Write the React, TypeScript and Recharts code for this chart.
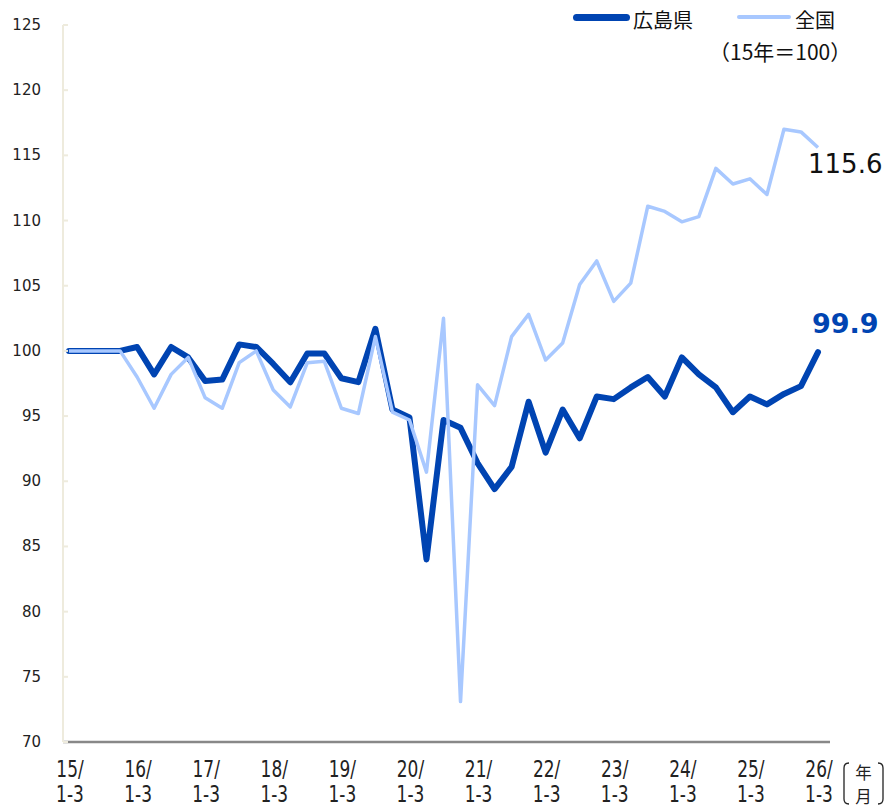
import React from 'react';
import { LineChart, Line, XAxis, YAxis, LabelList } from 'recharts';

const categories: string[] = [];
const years = ['15', '16', '17', '18', '19', '20', '21', '22', '23', '24', '25', '26'];
const quarters = ['1-3', '4-6', '7-9', '10-12'];
years.forEach((y, yi) => {
  quarters.forEach((q, qi) => {
    if (yi === years.length - 1 && qi > 0) return;
    categories.push(`${y}/${q}`);
  });
});

const hiroshima = [
  100, 100, 100, 100,
  100.3, 98.2, 100.3, 99.5,
  97.7, 97.8, 100.5, 100.3,
  99.0, 97.6, 99.8, 99.8,
  97.9, 97.6, 101.7, 95.5,
  94.9, 84.0, 94.7, 94.1,
  91.4, 89.4, 91.1, 96.1,
  92.2, 95.5, 93.3, 96.5,
  96.3, 97.2, 98.0, 96.5,
  99.5, 98.2, 97.2, 95.3,
  96.5, 95.9, 96.7, 97.3,
  99.9,
];

const zenkoku = [
  100, 100, 100, 100,
  98.0, 95.6, 98.2, 99.5,
  96.4, 95.6, 99.1, 100.0,
  97.0, 95.7, 99.1, 99.2,
  95.6, 95.2, 101.1, 95.3,
  94.7, 90.7, 102.5, 73.1,
  97.4, 95.8, 101.1, 102.8,
  99.3, 100.6, 105.1, 106.9,
  103.8, 105.2, 111.1, 110.7,
  109.9, 110.3, 114.0, 112.8,
  113.2, 112.0, 117.0, 116.8,
  115.6,
];

const yTicks = [70, 75, 80, 85, 90, 95, 100, 105, 110, 115, 120, 125];

const seriesNames = ['広島県', '全国'];
const unitNote = '（15年＝100）';

const DARK = '#0044B2';
const LIGHT = '#A8C8FF';

const data = categories.map((c, i) => ({ cat: c, hiroshima: hiroshima[i], zenkoku: zenkoku[i] }));
const LAST = data.length - 1;

const SY = 1.15;

const XTick = (props: any) => {
  const { x, y, payload } = props;
  const [yr, q] = String(payload.value).split('/');
  const common = {
    transform: `scale(0.85,${SY})`,
    textAnchor: 'middle' as const,
    fill: '#222',
    fontSize: 20,
    fontFamily: "'DejaVu Sans', Verdana, sans-serif",
  };
  return (
    <g transform={`translate(${x + 1},${y})`}>
      <text {...common} x={0} y={35 / SY}>{`${yr}/`}</text>
      <text {...common} x={0} y={60 / SY}>{q}</text>
    </g>
  );
};

const YTick = (props: any) => {
  const { x, y, payload } = props;
  return (
    <g>
      <line x1={x + 22} x2={x + 27} y1={y} y2={y} stroke="#EEEBDD" strokeWidth={2} />
      <text
        x={x}
        y={y}
        dy={5}
        textAnchor="end"
        fill="#222"
        fontSize={15}
        fontFamily="'DejaVu Sans', Verdana, sans-serif"
      >
        {payload.value}
      </text>
    </g>
  );
};

const ZenkokuLabel = (props: any) => {
  const { x, y, index, value } = props;
  if (index !== LAST) return null;
  return (
    <text x={x - 10} y={y + 25} fill="#111" fontSize={26} fontFamily="'DejaVu Sans', Verdana, sans-serif">
      {Number(value).toFixed(1)}
    </text>
  );
};

const HiroLabel = (props: any) => {
  const { x, y, index, value } = props;
  if (index !== LAST) return null;
  return (
    <text
      x={x - 6}
      y={y - 19}
      fill={DARK}
      fontSize={27}
      fontWeight="bold"
      fontFamily="'DejaVu Sans', Verdana, sans-serif"
    >
      {Number(value).toFixed(1)}
    </text>
  );
};

const cjk = "'Noto Sans CJK JP', 'Noto Sans', sans-serif";

export default function App() {
  return (
    <div style={{ position: 'absolute', left: 0, top: 0, width: 887, height: 807, background: '#fff' }}>
      <LineChart
        width={887}
        height={807}
        data={data}
        margin={{ top: 25, right: 57, bottom: 0, left: 0 }}
      >
        <XAxis
          dataKey="cat"
          interval={3}
          tickLine={false}
          tickSize={0}
          tickMargin={0}
          height={65}
          padding={{ left: 6, right: 12 }}
          axisLine={{ stroke: '#888', strokeWidth: 2.5 }}
          tick={<XTick />}
        />
        <YAxis
          domain={[70, 125]}
          ticks={yTicks}
          width={63}
          tickLine={false}
          tickSize={0}
          tickMargin={22}
          axisLine={{ stroke: '#EEEBDD', strokeWidth: 2 }}
          tick={<YTick />}
          interval={0}
          allowDataOverflow
        />
        <Line
          dataKey="hiroshima"
          name={seriesNames[0]}
          stroke={DARK}
          strokeWidth={6}
          strokeLinecap="round"
          strokeLinejoin="round"
          dot={false}
          activeDot={false}
          isAnimationActive={false}
        >
          <LabelList dataKey="hiroshima" content={<HiroLabel />} />
        </Line>
        <Line
          dataKey="zenkoku"
          name={seriesNames[1]}
          stroke={LIGHT}
          strokeWidth={3.5}
          strokeLinejoin="round"
          dot={false}
          activeDot={false}
          isAnimationActive={false}
        >
          <LabelList dataKey="zenkoku" content={<ZenkokuLabel />} />
        </Line>
      </LineChart>

      {/* legend */}
      <div style={{ position: 'absolute', left: 573, top: 14, width: 57, height: 7, borderRadius: 4, background: DARK }} />
      <div style={{ position: 'absolute', left: 633, top: 7, fontSize: 20, lineHeight: '26px', fontFamily: cjk, color: '#111' }}>
        {seriesNames[0]}
      </div>
      <div style={{ position: 'absolute', left: 737, top: 15, width: 54, height: 4, borderRadius: 2, background: LIGHT }} />
      <div style={{ position: 'absolute', left: 795, top: 7, fontSize: 20, lineHeight: '26px', fontFamily: cjk, color: '#111' }}>
        {seriesNames[1]}
      </div>
      <div style={{ position: 'absolute', left: 709, top: 37, fontSize: 21, lineHeight: '28px', fontFamily: cjk, color: '#111', whiteSpace: 'nowrap' }}>
        {unitNote}
      </div>

      {/* 年月 unit box */}
      <svg style={{ position: 'absolute', left: 840, top: 758 }} width={47} height={49}>
        <path d="M9 5 Q4 5 4 10 L4 41 Q4 46 9 46" fill="none" stroke="#222" strokeWidth={1.3} />
        <path d="M38 5 Q43 5 43 10 L43 41 Q43 46 38 46" fill="none" stroke="#222" strokeWidth={1.3} />
        <text x={23.5} y={20.5} textAnchor="middle" fontSize={16.5} fontFamily={cjk} fill="#222">年</text>
        <text x={23.5} y={44.5} textAnchor="middle" fontSize={16.5} fontFamily={cjk} fill="#222">月</text>
      </svg>
    </div>
  );
}
